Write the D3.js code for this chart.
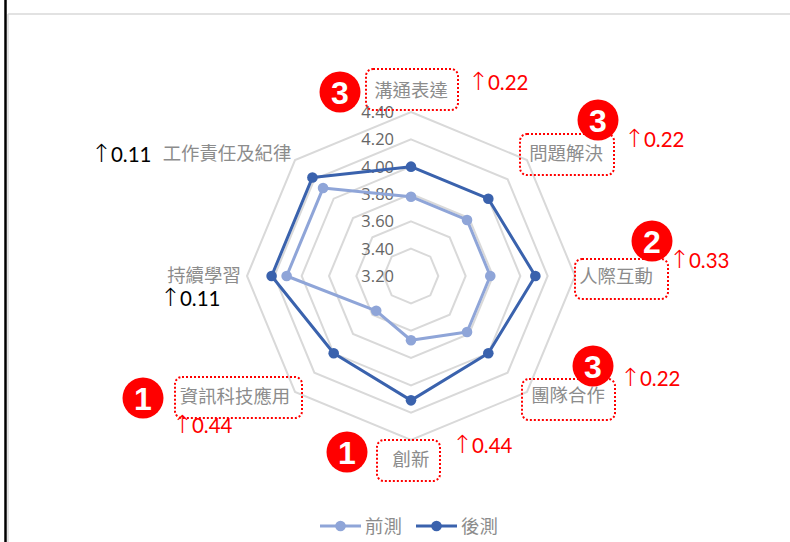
<!DOCTYPE html>
<html>
<head>
<meta charset="utf-8">
<script src="https://cdn.jsdelivr.net/npm/d3@7"></script>
<style>
  html, body { margin: 0; padding: 0; background: #fff; }
  svg { display: block; }
  .cat { font-family: "Noto Sans CJK TC", sans-serif; font-size: 18.4px; fill: #8c8c8c; }
  .tick { font-family: "Open Sans", "Noto Sans", sans-serif; font-size: 16.5px; fill: #666; }
  .gain { font-family: "Lato", sans-serif; font-size: 20.5px; }
  .arrow { font-family: "DejaVu Sans", sans-serif; font-size: 25px; font-weight: 200; }
  .rank { font-family: "Liberation Sans", sans-serif; font-size: 32px; font-weight: bold; fill: #fff; }
</style>
</head>
<body>
<script>
// axis categories, clockwise from the top
var categories = ["溝通表達", "問題解決", "人際互動", "團隊合作", "創新", "資訊科技應用", "持續學習", "工作責任及紀律"];
var preTest = [3.78, 3.78, 3.78, 3.78, 3.67, 3.56, 4.11, 4.11];
var postTest = [4.00, 4.00, 4.11, 4.00, 4.11, 4.00, 4.22, 4.22];
var tickValues = [3.2, 3.4, 3.6, 3.8, 4.0, 4.2, 4.4];
var seriesNames = ["前測", "後測"];

// annotations next to the category labels
var gains = ["0.22", "0.22", "0.33", "0.22", "0.44", "0.44", "0.11", "0.11"];
var ranks = [3, 3, 2, 3, 1, 1, null, null];

var width = 790, height = 542;
var cx = 411, cy = 276, outerRadius = 164;
var preColor = "#8fa5d8", postColor = "#3a62ad";

var svg = d3.select("body").append("svg")
  .attr("width", width)
  .attr("height", height);

// frame left over from the slide
svg.append("line").attr("x1", 5.5).attr("x2", 5.5).attr("y1", 0).attr("y2", height)
  .attr("stroke", "#000").attr("stroke-width", 2.5);
svg.append("line").attr("x1", 8).attr("x2", 8).attr("y1", 14).attr("y2", height)
  .attr("stroke", "#d9d9d9").attr("stroke-width", 1.5);
svg.append("line").attr("x1", 8).attr("x2", width).attr("y1", 14).attr("y2", 14)
  .attr("stroke", "#d9d9d9").attr("stroke-width", 1.5);

var rScale = d3.scaleLinear().domain([3.2, 4.4]).range([0, outerRadius]);
var angle = d3.scalePoint().domain(d3.range(categories.length + 1)).range([0, 2 * Math.PI]);

var chart = svg.append("g").attr("transform", `translate(${cx}, ${cy})`);

var radial = d3.lineRadial()
  .angle((d, i) => angle(i))
  .radius(d => rScale(d))
  .curve(d3.curveLinearClosed);

// rings
chart.selectAll("path.ring")
  .data(tickValues.slice(1))
  .enter()
  .append("path")
  .attr("class", "ring")
  .attr("d", t => radial(categories.map(() => t)))
  .attr("fill", "none")
  .attr("stroke", "#d9d9d9")
  .attr("stroke-width", 2);

// tick labels
chart.selectAll("text.tick")
  .data(tickValues)
  .enter()
  .append("text")
  .attr("class", "tick")
  .attr("x", -17)
  .attr("y", t => -rScale(t))
  .attr("dy", "0.36em")
  .attr("text-anchor", "end")
  .text(t => t.toFixed(2));

function drawSeries(values, color, r) {
  chart.append("path")
    .attr("d", radial(values))
    .attr("fill", "none")
    .attr("stroke", color)
    .attr("stroke-width", 3)
    .attr("stroke-linejoin", "round");

  chart.selectAll(null)
    .data(values)
    .enter()
    .append("circle")
    .attr("cx", (d, i) => rScale(d) * Math.sin(angle(i)))
    .attr("cy", (d, i) => -rScale(d) * Math.cos(angle(i)))
    .attr("r", r)
    .attr("fill", color);
}
drawSeries(preTest, preColor, 5.3);
drawSeries(postTest, postColor, 5.3);

// hand placed around the chart: label centre, dotted box, badge, gain text
var placement = [
  { lx: 411, ly: 90, box: [366, 69, 92, 41], badge: [340, 92], gx: 468, gy: 84, gc: "#ff0000" },
  { lx: 566, ly: 153, box: [520, 134, 94, 41], badge: [598, 120], gx: 624, gy: 141, gc: "#ff0000" },
  { lx: 616, ly: 276, box: [575, 259, 93, 40], badge: [652, 241], gx: 669, gy: 262, gc: "#ff0000" },
  { lx: 568, ly: 395, box: [522, 379, 93, 41], badge: [593, 366], gx: 620, gy: 380, gc: "#ff0000" },
  { lx: 411, ly: 459, box: [377, 440, 63, 41], badge: [347, 452], gx: 452, gy: 447, gc: "#ff0000" },
  { lx: 235, ly: 396, box: [175, 377, 127, 41], badge: [143, 398], gx: 172, gy: 427, gc: "#ff0000" },
  { lx: 204, ly: 275, box: null, badge: null, gx: 160, gy: 300, gc: "#000" },
  { lx: 227, ly: 153, box: null, badge: null, gx: 91, gy: 156, gc: "#000" }
];

var notes = svg.append("g");

categories.forEach(function(name, i) {
  var p = placement[i];

  notes.append("text")
    .attr("class", "cat")
    .attr("x", p.lx)
    .attr("y", p.ly)
    .attr("dy", "0.36em")
    .attr("text-anchor", "middle")
    .text(name);

  if (p.box) {
    notes.append("rect")
      .attr("x", p.box[0])
      .attr("y", p.box[1])
      .attr("width", p.box[2])
      .attr("height", p.box[3])
      .attr("rx", 7)
      .attr("fill", "none")
      .attr("stroke", "#ff0000")
      .attr("stroke-width", 2)
      .attr("stroke-dasharray", "2 2");
  }

  var g = notes.append("text")
    .attr("x", p.gx)
    .attr("y", p.gy)
    .attr("dy", "0.36em")
    .attr("fill", p.gc);
  g.append("tspan").attr("class", "arrow").text("↑");
  g.append("tspan").attr("class", "gain").attr("dx", -1).text(gains[i]);
});

// badges go last, they sit on top of the boxes
categories.forEach(function(name, i) {
  var p = placement[i];
  if (ranks[i] === null) return;
  notes.append("circle")
    .attr("cx", p.badge[0])
    .attr("cy", p.badge[1])
    .attr("r", 20.5)
    .attr("fill", "#ff0000");
  notes.append("text")
    .attr("class", "rank")
    .attr("x", p.badge[0])
    .attr("y", p.badge[1])
    .attr("dy", "0.36em")
    .attr("text-anchor", "middle")
    .text(ranks[i]);
});

// legend
var legendItems = [
  { x: 320, color: preColor, text: seriesNames[0] },
  { x: 416, color: postColor, text: seriesNames[1] }
];
legendItems.forEach(function(item) {
  svg.append("line")
    .attr("x1", item.x).attr("x2", item.x + 41)
    .attr("y1", 526).attr("y2", 526)
    .attr("stroke", item.color).attr("stroke-width", 3);
  svg.append("circle")
    .attr("cx", item.x + 20.5).attr("cy", 526).attr("r", 5.3)
    .attr("fill", item.color);
  svg.append("text")
    .attr("class", "cat")
    .attr("x", item.x + 45)
    .attr("y", 526)
    .attr("dy", "0.36em")
    .text(item.text);
});
</script>
</body>
</html>
